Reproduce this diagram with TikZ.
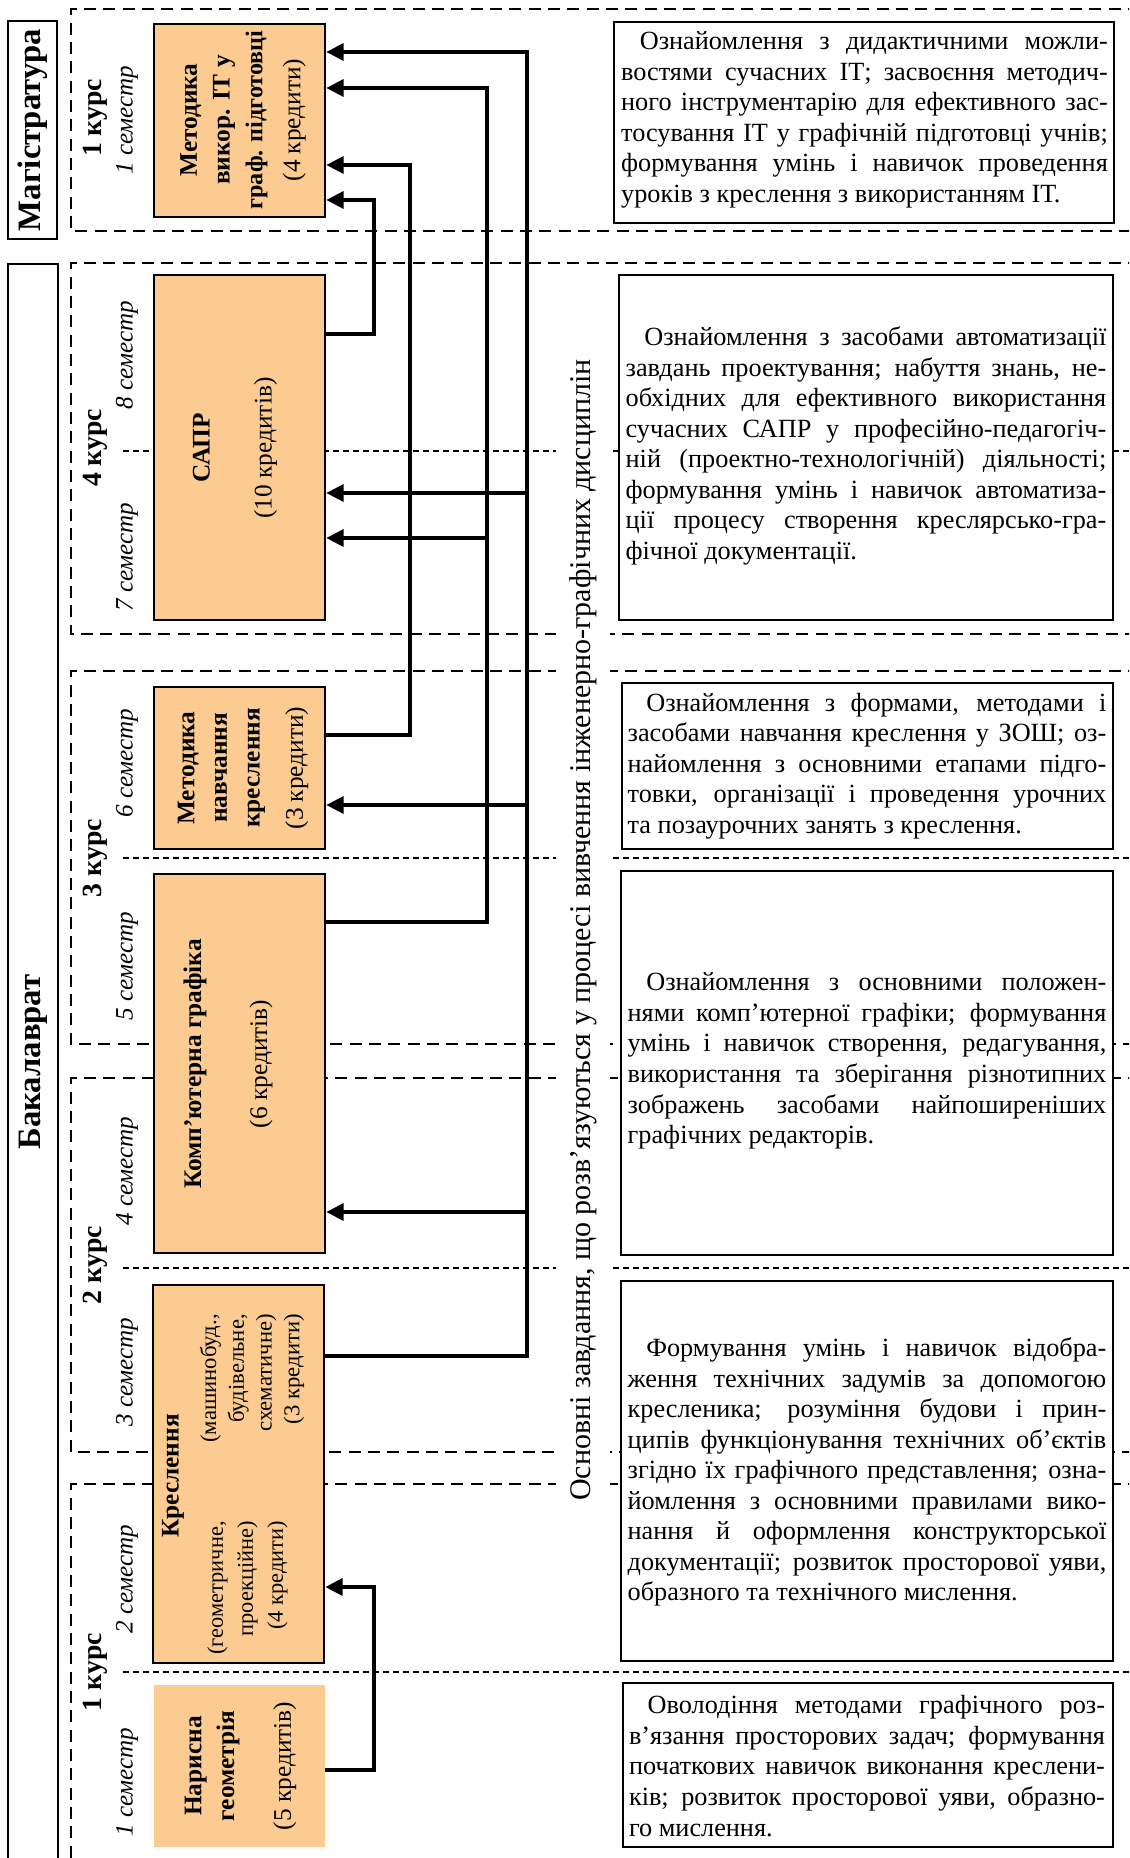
\documentclass[tikz,border=0pt]{standalone}
\usepackage{fontspec}
\setmainfont{Liberation Serif}
\usetikzlibrary{arrows.meta,fit}
\definecolor{discfill}{RGB}{251,203,145}
\newcommand\tblock[2]{\vbox{\hsize=#1\relax #2}}
\newcommand\jl[1]{\hbox to \hsize{#1}}
\newcommand\lastln[1]{\hbox{#1}}
\begin{document}
\begin{tikzpicture}[x=0.75pt,y=-0.75pt,
  course/.style={line width=2.2pt, dash pattern=on 9pt off 5.5pt},
  semline/.style={line width=1.4pt, dash pattern=on 4.5pt off 3pt},
  lvl/.style={draw, line width=1.5pt, inner sep=0pt},
  disc/.style={draw, fill=discfill, line width=1.8pt, inner sep=0pt},
  discnb/.style={fill=discfill, inner sep=0pt},
  task/.style={draw, fill=white, line width=1.8pt, inner sep=0pt},
  tasktext/.style={inner sep=0pt, font=\fontsize{19.7}{22.9}\selectfont},
  disctext/.style={rotate=90, align=center, inner sep=0pt, font=\fontsize{19}{24.5}\selectfont},
  lbl/.style={rotate=90, inner sep=0pt},
  lvltext/.style={lbl, font=\bfseries\fontsize{24.5}{26}\selectfont},
  coursetext/.style={lbl, font=\bfseries\fontsize{20.8}{22}\selectfont},
  semtext/.style={lbl, font=\itshape\fontsize{18.8}{20}\selectfont},
  conn/.style={line width=3pt, -{Triangle[length=13pt,width=12.5pt]}},
]
\useasboundingbox (0,0) rectangle (1129,1858);
\clip (0,0) rectangle (1129,1858);

% course frames
\draw[course] (1140,9) -- (71,9) -- (71,231) -- (1140,231);
\draw[course] (1140,263) -- (71,263) -- (71,634) -- (1140,634);
\draw[course] (1140,671) -- (71,671) -- (71,1044) -- (1140,1044);
\draw[course] (1140,1078) -- (71,1078) -- (71,1452) -- (1140,1452);
\draw[course] (1140,1484) -- (71,1484) -- (71,1880);

% semester lines
\draw[semline] (123,451) -- (1140,451);
\draw[semline] (123,858) -- (1140,858);
\draw[semline] (123,1268) -- (1140,1268);
\draw[semline] (123,1672) -- (1140,1672);

% level boxes
\node[lvl, fit={(8,21) (57,239)}] (magbox) {};
\node[lvltext] (mag) at (33,130) {Магістратура};
\node[lvl, fit={(8,264) (58,1880)}] (bakbox) {};
\node[lvltext] (bak) at (33,1062) {Бакалаврат};

% course labels
\node[coursetext] (c5) at (95,118) {1 курс};
\node[coursetext] (c4) at (95,448) {4 курс};
\node[coursetext] (c3) at (95,858) {3 курс};
\node[coursetext] (c2) at (95,1265) {2 курс};
\node[coursetext] (c1) at (95,1672) {1 курс};

% semester labels
\node[semtext] (s9) at (127,120) {1 семестр};
\node[semtext] (s8) at (127,355) {8 семестр};
\node[semtext] (s7) at (127,557) {7 семестр};
\node[semtext] (s6) at (127,763) {6 семестр};
\node[semtext] (s5) at (127,966) {5 семестр};
\node[semtext] (s4) at (127,1171) {4 семестр};
\node[semtext] (s3) at (127,1372) {3 семестр};
\node[semtext] (s2) at (127,1579) {2 семестр};
\node[semtext] (s1) at (127,1782) {1 семестр};

% discipline boxes
\node[disc, fit={(154,24) (325,217)}] (mit) {};
\node[disctext] (mitT) at (243,120) {\textbf{Методика}\\\textbf{викор. ІТ у}\\{\bfseries\fontsize{18.1}{24.5}\selectfont граф. підготовці}\\[4pt](4 кредити)};

\node[disc, fit={(154,275) (325,620)}] (sapr) {};
\node[disctext] (saprT) at (235,448) {\textbf{САПР}\\[22pt](10 кредитів)};

\node[disc, fit={(154,687) (325,849)}] (mnk) {};
\node[disctext] (mnkT) at (243,768) {\textbf{Методика}\\\textbf{навчання}\\\textbf{креслення}\\[8pt](3 кредити)};

\node[disc, fit={(154,874) (325,1253)}] (kg) {};
\node[disctext] (kgT) at (228,1064) {\textbf{Комп’ютерна графіка}\\[25pt](6 кредитів)};

\node[disc, fit={(153,1285) (324,1663)}] (kr) {};
\node[lbl, font=\bfseries\fontsize{19}{23.5}\selectfont] (krT) at (173,1476) {Креслення};
\node[lbl, align=right, font=\fontsize{17}{20.8}\selectfont, anchor=east] (krA) at (252,1314) {(машинобуд.,\\будівельне,\\схематичне)\\(3 кредити)};
\node[lbl, align=right, font=\fontsize{16.8}{22.5}\selectfont, anchor=east] (krB) at (247.5,1521) {(геометричне,\\проекційне)\\(4 кредити)};

\node[discnb, fit={(154,1685) (325,1847)}] (ng) {};
\node[disctext] (ngT) at (240.5,1766) {\textbf{Нарисна}\\\textbf{геометрія}\\[18pt](5 кредитів)};

% connectors
\draw[conn] (kr.east |- 0,1356) -| (527,52) -- (mit.east |- 0,52);
\draw[conn] (527,1212) -- (kg.east |- 0,1212);
\draw[conn] (527,805) -- (mnk.east |- 0,805);
\draw[conn] (527,493) -- (sapr.east |- 0,493);
\draw[conn] (kg.east |- 0,922) -| (487,88) -- (mit.east |- 0,88);
\draw[conn] (487,538) -- (sapr.east |- 0,538);
\draw[conn] (mnk.east |- 0,735) -| (410,165) -- (mit.east |- 0,165);
\draw[conn] (sapr.east |- 0,334) -| (374,200) -- (mit.east |- 0,200);
\draw[conn] (ng.east |- 0,1770) -| (374,1587) -- (kr.east |- 0,1587);

% main vertical text
\node[lbl, fill=white, inner xsep=3pt, inner ysep=10pt, font=\fontsize{22.5}{24}\selectfont] (main) at (583,930) {Основні завдання, що розв’язуються у процесі вивчення інженерно-графічних дисциплін};

% task boxes
\node[task, fit={(614,22) (1114,223)}] (t1) {};
\node[tasktext] (t1T) at (864.5,120) {\tblock{365pt}{%
\jl{\hspace*{14pt}Ознайомлення з дидактичними можли-}
\jl{востями сучасних ІТ; засвоєння методич-}
\jl{ного інструментарію для ефективного зас-}
\jl{тосування ІТ у графічній підготовці учнів;}
\jl{формування умінь і навичок проведення}
\lastln{уроків з креслення з використанням ІТ.}}};

\node[task, fit={(619,275) (1113,620)}] (t2) {};
\node[tasktext] (t2T) at (866,446) {\tblock{360.5pt}{%
\jl{\hspace*{14pt}Ознайомлення з засобами автоматизації}
\jl{завдань проектування; набуття знань, не-}
\jl{обхідних для ефективного використання}
\jl{сучасних САПР у професійно-педагогіч-}
\jl{ній (проектно-технологічній) діяльності;}
\jl{формування умінь і навичок автоматиза-}
\jl{ції процесу створення креслярсько-гра-}
\lastln{фічної документації.}}};

\node[task, fit={(622,683) (1113,849)}] (t3) {};
\node[tasktext] (t3T) at (867,766) {\tblock{359pt}{%
\jl{\hspace*{14pt}Ознайомлення з формами, методами і}
\jl{засобами навчання креслення у ЗОШ; оз-}
\jl{найомлення з основними етапами підго-}
\jl{товки, організації і проведення урочних}
\lastln{та позаурочних занять з креслення.}}};

\node[task, fit={(621,871) (1113,1255)}] (t4) {};
\node[tasktext] (t4T) at (867,1061) {\tblock{359pt}{%
\jl{\hspace*{14pt}Ознайомлення з основними положен-}
\jl{нями комп’ютерної графіки; формування}
\jl{умінь і навичок створення, редагування,}
\jl{використання та зберігання різнотипних}
\jl{зображень засобами найпоширеніших}
\lastln{графічних редакторів.}}};

\node[task, fit={(621,1281) (1113,1661)}] (t5) {};
\node[tasktext] (t5T) at (867,1472) {\tblock{359pt}{%
\jl{\hspace*{14pt}Формування умінь і навичок відобра-}
\jl{ження технічних задумів за допомогою}
\jl{кресленика; розуміння будови і прин-}
\jl{ципів функціонування технічних об’єктів}
\jl{згідно їх графічного представлення; озна-}
\jl{йомлення з основними правилами вико-}
\jl{нання й оформлення конструкторської}
\jl{документації; розвиток просторової уяви,}
\lastln{образного та технічного мислення.}}};

\node[task, fit={(623,1683) (1113,1847)}] (t6) {};
\node[tasktext] (t6T) at (867,1766) {\tblock{357pt}{%
\jl{\hspace*{14pt}Оволодіння методами графічного роз-}
\jl{в’язання просторових задач; формування}
\jl{початкових навичок виконання креслени-}
\jl{ків; розвиток просторової уяви, образно-}
\lastln{го мислення.}}};
\end{tikzpicture}
\end{document}
